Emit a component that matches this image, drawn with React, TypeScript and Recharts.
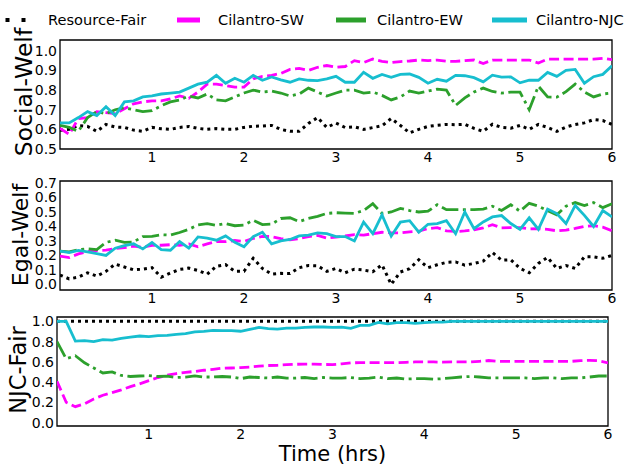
import { LineChart, Line, XAxis, YAxis, ReferenceArea } from "recharts";

// time axis, hours
const hours = [
  0, 0.1, 0.2, 0.3, 0.4, 0.5, 0.6, 0.7, 0.8, 0.9,
  1, 1.1, 1.2, 1.3, 1.4, 1.5, 1.6, 1.7, 1.8, 1.9,
  2, 2.1, 2.2, 2.3, 2.4, 2.5, 2.6, 2.7, 2.8, 2.9,
  3, 3.1, 3.2, 3.3, 3.4, 3.5, 3.6, 3.7, 3.8, 3.9,
  4, 4.1, 4.2, 4.3, 4.4, 4.5, 4.6, 4.7, 4.8, 4.9,
  5, 5.1, 5.2, 5.3, 5.4, 5.5, 5.6, 5.7, 5.8, 5.9,
  6,
];

const xTicks = [1, 2, 3, 4, 5, 6];

// Social-Welf
const socialResourceFair = [
  0.596, 0.6, 0.62, 0.615, 0.59, 0.625, 0.612, 0.61, 0.596, 0.59,
  0.61, 0.603, 0.6, 0.61, 0.615, 0.605, 0.6, 0.604, 0.6, 0.6,
  0.61, 0.616, 0.617, 0.62, 0.6, 0.59, 0.59, 0.63, 0.66, 0.61,
  0.632, 0.609, 0.613, 0.6, 0.609, 0.618, 0.655, 0.62, 0.582, 0.6,
  0.615, 0.621, 0.625, 0.624, 0.626, 0.605, 0.59, 0.626, 0.61, 0.606,
  0.62, 0.6, 0.625, 0.61, 0.59, 0.612, 0.625, 0.633, 0.65, 0.645,
  0.625,
];
const socialSW = [
  0.605, 0.575, 0.655, 0.66, 0.69, 0.685, 0.68, 0.705, 0.73, 0.74,
  0.745, 0.745, 0.755, 0.77, 0.758, 0.79, 0.83, 0.83, 0.823, 0.815,
  0.815, 0.857, 0.87, 0.875, 0.885, 0.905, 0.91, 0.9, 0.916, 0.925,
  0.916, 0.92, 0.95, 0.94, 0.958, 0.946, 0.94, 0.945, 0.948, 0.953,
  0.95, 0.953, 0.947, 0.946, 0.95, 0.953, 0.935, 0.953, 0.953, 0.953,
  0.953, 0.953, 0.938, 0.958, 0.958, 0.958, 0.958, 0.958, 0.958, 0.962,
  0.955,
];
const socialEW = [
  0.62, 0.61, 0.59, 0.66, 0.69, 0.68, 0.7, 0.71, 0.7, 0.69,
  0.695, 0.72, 0.74, 0.75, 0.77, 0.76, 0.78, 0.75, 0.745, 0.765,
  0.785, 0.8, 0.79, 0.795, 0.785, 0.77, 0.78, 0.81, 0.79, 0.77,
  0.785, 0.8, 0.8, 0.785, 0.79, 0.773, 0.75, 0.765, 0.795, 0.785,
  0.795, 0.805, 0.8, 0.722, 0.76, 0.79, 0.81, 0.793, 0.785, 0.79,
  0.79, 0.7, 0.82, 0.765, 0.764, 0.792, 0.83, 0.79, 0.765, 0.78,
  0.785,
];
const socialNJC = [
  0.633, 0.633, 0.66, 0.69, 0.67, 0.715, 0.67, 0.74, 0.745, 0.765,
  0.77, 0.78, 0.785, 0.79, 0.81, 0.83, 0.84, 0.875, 0.835, 0.86,
  0.84, 0.875, 0.85, 0.867, 0.852, 0.84, 0.857, 0.85, 0.848, 0.857,
  0.87, 0.84, 0.84, 0.89, 0.86, 0.88, 0.865, 0.88, 0.882, 0.865,
  0.835, 0.855, 0.845, 0.875, 0.873, 0.863, 0.842, 0.876, 0.866, 0.867,
  0.837, 0.85, 0.85, 0.89, 0.87, 0.9, 0.905, 0.835, 0.868, 0.88,
  0.924,
];
const socialTicks = [0.5, 0.6, 0.7, 0.8, 0.9, 1.0];

// Egal-Welf
const egalResourceFair = [
  0.064, 0.038, 0.05, 0.08, 0.057, 0.09, 0.14, 0.12, 0.1, 0.105,
  0.115, 0.05, 0.078, 0.103, 0.112, 0.096, 0.07, 0.125, 0.136, 0.09,
  0.09, 0.18, 0.11, 0.071, 0.076, 0.075, 0.115, 0.13, 0.128, 0.09,
  0.11, 0.08, 0.105, 0.099, 0.087, 0.135, 0.0, 0.085, 0.108, 0.17,
  0.115, 0.135, 0.152, 0.155, 0.133, 0.144, 0.16, 0.22, 0.167, 0.17,
  0.11, 0.08, 0.145, 0.186, 0.11, 0.13, 0.11, 0.19, 0.19, 0.18,
  0.2,
];
const egalSW = [
  0.195, 0.185, 0.21, 0.226, 0.234, 0.236, 0.248, 0.253, 0.264, 0.256,
  0.27, 0.27, 0.274, 0.27, 0.28, 0.26, 0.28, 0.296, 0.295, 0.303,
  0.297, 0.317, 0.332, 0.33, 0.316, 0.307, 0.316, 0.33, 0.338, 0.32,
  0.327, 0.334, 0.343, 0.34, 0.35, 0.36, 0.356, 0.355, 0.362, 0.367,
  0.385, 0.392, 0.37, 0.365, 0.369, 0.376, 0.39, 0.412, 0.39, 0.392,
  0.392, 0.383, 0.385, 0.38, 0.37, 0.375, 0.386, 0.401, 0.405, 0.395,
  0.37,
];
const egalEW = [
  0.23, 0.225, 0.24, 0.245, 0.24, 0.29, 0.305, 0.29, 0.293, 0.33,
  0.332, 0.343, 0.34, 0.358, 0.38, 0.41, 0.42, 0.408, 0.42, 0.405,
  0.41, 0.443, 0.413, 0.416, 0.455, 0.46, 0.434, 0.455, 0.47, 0.49,
  0.495, 0.492, 0.49, 0.51, 0.557, 0.49, 0.5, 0.525, 0.51, 0.5,
  0.505, 0.55, 0.516, 0.516, 0.516, 0.516, 0.52, 0.54, 0.51, 0.55,
  0.505, 0.56, 0.54, 0.51, 0.48, 0.54, 0.565, 0.545, 0.565, 0.53,
  0.557,
];
const egalNJC = [
  0.23, 0.22, 0.235, 0.225, 0.213, 0.2, 0.25, 0.268, 0.28, 0.245,
  0.29, 0.24, 0.236, 0.295, 0.25, 0.328, 0.32, 0.305, 0.335, 0.29,
  0.26, 0.33, 0.36, 0.28, 0.3, 0.31, 0.335, 0.34, 0.355, 0.35,
  0.33, 0.33, 0.3, 0.43, 0.35, 0.48, 0.333, 0.43, 0.44, 0.36,
  0.415, 0.42, 0.44, 0.35, 0.5, 0.385, 0.431, 0.466, 0.475, 0.42,
  0.38, 0.46, 0.38, 0.52, 0.489, 0.42, 0.545, 0.477, 0.4, 0.51,
  0.466,
];
const egalTicks = [0, 0.1, 0.2, 0.3, 0.4, 0.5, 0.6, 0.7];

// NJC-Fair
const njcResourceFair = [
  1, 1, 1, 1, 1, 1, 1, 1, 1, 1,
  1, 1, 1, 1, 1, 1, 1, 1, 1, 1,
  1, 1, 1, 1, 1, 1, 1, 1, 1, 1,
  1, 1, 1, 1, 1, 1, 1, 1, 1, 1,
  1, 1, 1, 1, 1, 1, 1, 1, 1, 1,
  1, 1, 1, 1, 1, 1, 1, 1, 1, 1,
  1,
];
const njcSW = [
  0.408, 0.2, 0.157, 0.185, 0.233, 0.27, 0.296, 0.323, 0.355, 0.383,
  0.415, 0.445, 0.468, 0.484, 0.496, 0.505, 0.517, 0.526, 0.537, 0.539,
  0.543, 0.549, 0.557, 0.564, 0.566, 0.572, 0.576, 0.578, 0.578, 0.574,
  0.573, 0.58, 0.59, 0.592, 0.592, 0.592, 0.592, 0.592, 0.595, 0.599,
  0.599, 0.599, 0.597, 0.599, 0.599, 0.599, 0.605, 0.613, 0.605, 0.605,
  0.605, 0.605, 0.605, 0.605, 0.605, 0.605, 0.605, 0.612, 0.615, 0.61,
  0.59,
];
const njcEW = [
  0.8, 0.63, 0.66, 0.59, 0.54, 0.49, 0.5, 0.465, 0.455, 0.46,
  0.463, 0.455, 0.458, 0.445, 0.45, 0.462, 0.45, 0.45, 0.455, 0.45,
  0.434, 0.45, 0.445, 0.44, 0.45, 0.44, 0.44, 0.445, 0.435, 0.445,
  0.44, 0.44, 0.445, 0.435, 0.44, 0.45, 0.434, 0.44, 0.43, 0.434,
  0.434, 0.428, 0.434, 0.441, 0.45, 0.455, 0.45, 0.441, 0.441, 0.441,
  0.441, 0.441, 0.434, 0.441, 0.441, 0.434, 0.441, 0.441, 0.45, 0.46,
  0.46,
];
const njcNJC = [
  1, 1, 0.805, 0.81, 0.8, 0.819, 0.815, 0.832, 0.845, 0.855,
  0.85, 0.858, 0.862, 0.872, 0.878, 0.897, 0.901, 0.911, 0.908, 0.908,
  0.902, 0.921, 0.94, 0.928, 0.924, 0.934, 0.934, 0.94, 0.944, 0.944,
  0.94, 0.942, 0.93, 0.96, 0.96, 0.99, 0.975, 0.987, 0.987, 0.98,
  0.987, 0.993, 0.993, 1, 1, 1, 1, 1, 1, 1,
  1, 1, 1, 1, 1, 1, 1, 1, 1, 1,
  1,
];
const njcTicks = [0, 0.2, 0.4, 0.6, 0.8, 1.0];

const W = 624;
const H = 467;
const FONT = "DejaVu Sans";
const tickStyle = { fontSize: 14, fill: "#000", fontFamily: FONT };

const rows = (rf: number[], sw: number[], ew: number[], njc: number[]) =>
  hours.map((t, i) => ({ t, rf: rf[i], sw: sw[i], ew: ew[i], njc: njc[i] }));

interface PanelProps {
  data: { t: number; rf: number; sw: number; ew: number; njc: number }[];
  domain: [number, number];
  ticks: number[];
  top: number;
  plotBottom: number;
  left: number;
  right: number;
}

const Panel = (props: PanelProps) => {
  const xh = 24;
  return (
    <div style={{ position: "absolute", left: 0, top: 0 }}>
      <LineChart
        width={W}
        height={H}
        data={props.data}
        margin={{ top: props.top, right: props.right, bottom: H - props.plotBottom - xh, left: 0 }}
      >
        <XAxis
          dataKey="t"
          type="number"
          domain={[0, 6]}
          ticks={xTicks}
          interval={0}
          height={xh}
          tickSize={0}
          tickMargin={3}
          axisLine={false}
          tick={tickStyle}
          allowDataOverflow
        />
        <YAxis
          type="number"
          domain={props.domain}
          ticks={props.ticks}
          interval={0}
          width={props.left}
          tickSize={0}
          tickMargin={3}
          axisLine={false}
          tick={tickStyle}
          tickFormatter={(v: number) => v.toFixed(1)}
          allowDataOverflow
        />
        <Line dataKey="rf" stroke="#000" strokeWidth={3} strokeDasharray="3 4" dot={false} isAnimationActive={false} />
        <Line dataKey="sw" stroke="#ff00ff" strokeWidth={2.8} strokeDasharray="10 4.5" dot={false} isAnimationActive={false} />
        <Line dataKey="ew" stroke="#2ca02c" strokeWidth={2.8} strokeDasharray="17 4.5 3 4.5" dot={false} isAnimationActive={false} />
        <Line dataKey="njc" stroke="#17becf" strokeWidth={2.8} dot={false} isAnimationActive={false} />
        <ReferenceArea
          x1={0}
          x2={6}
          y1={props.domain[0]}
          y2={props.domain[1]}
          fill="none"
          stroke="#000"
          strokeWidth={1.3}
          ifOverflow="visible"
        />
      </LineChart>
    </div>
  );
};

const legendItems = [
  { name: "Resource-Fair", color: "#000", x1: 5.5, x2: 26, dash: "4 12", tx: 48 },
  { name: "Cilantro-SW", color: "#ff00ff", x1: 177, x2: 200, dash: undefined, tx: 218 },
  { name: "Cilantro-EW", color: "#2ca02c", x1: 336, x2: 366, dash: undefined, tx: 377 },
  { name: "Cilantro-NJC", color: "#17becf", x1: 492, x2: 527, dash: undefined, tx: 536 },
];

export default function App() {
  return (
    <div style={{ position: "absolute", left: 0, top: 0, width: W, height: H, background: "#fff" }}>
      <Panel
        data={rows(socialResourceFair, socialSW, socialEW, socialNJC)}
        domain={[0.5, 1.055]}
        ticks={socialTicks}
        top={40}
        plotBottom={149}
        left={60}
        right={12}
      />
      <Panel
        data={rows(egalResourceFair, egalSW, egalEW, egalNJC)}
        domain={[-0.039, 0.714]}
        ticks={egalTicks}
        top={181}
        plotBottom={290}
        left={60}
        right={12}
      />
      <Panel
        data={rows(njcResourceFair, njcSW, njcEW, njcNJC)}
        domain={[-0.034, 1.043]}
        ticks={njcTicks}
        top={317}
        plotBottom={426}
        left={57}
        right={16}
      />
      <svg width={W} height={H} style={{ position: "absolute", left: 0, top: 0, pointerEvents: "none" }}>
        {legendItems.map((it) => (
          <g key={it.name}>
            <line x1={it.x1} x2={it.x2} y1={20} y2={20} stroke={it.color} strokeWidth={it.dash ? 4 : 5} strokeDasharray={it.dash} />
            <text x={it.tx} y={25} fontSize={14.6} fontFamily={FONT} fill="#000">
              {it.name}
            </text>
          </g>
        ))}
        <text transform="translate(31.5,92) rotate(-90)" textAnchor="middle" fontSize={23.5} fontFamily={FONT} fill="#000">
          Social-Welf
        </text>
        <text transform="translate(28,235) rotate(-90)" textAnchor="middle" fontSize={22} fontFamily={FONT} fill="#000">
          Egal-Welf
        </text>
        <text transform="translate(25.5,370) rotate(-90)" textAnchor="middle" fontSize={22.5} fontFamily={FONT} fill="#000">
          NJC-Fair
        </text>
        <text x={332.5} y={461} textAnchor="middle" fontSize={21} fontFamily={FONT} fill="#000">
          Time (hrs)
        </text>
      </svg>
    </div>
  );
}
